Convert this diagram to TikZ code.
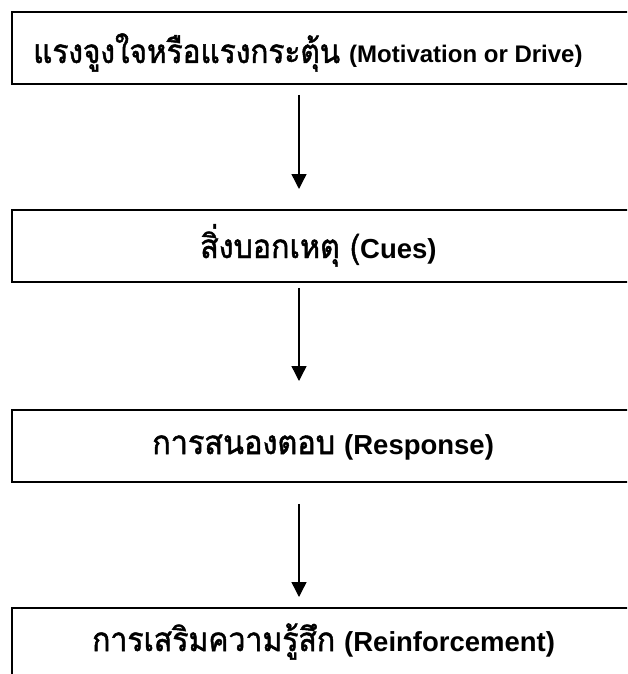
\documentclass[tikz,border=0pt]{standalone}
\usepackage{fontspec}
\usepackage{graphicx}
\newfontfamily\thai[Script=Thai,FakeBold=1.5]{Loma}
\newfontfamily\eng{Liberation Sans}
\usetikzlibrary{arrows.meta}
\tikzset{
  box/.style={draw=black, line width=1.8pt, rectangle, minimum width=624pt, minimum height=72pt, anchor=north west, inner sep=0pt},
  lbl/.style={inner sep=0pt, anchor=base west},
  arr/.style={line width=1.4pt, -{Triangle[length=15pt,width=15pt]}},
}
\newcommand{\thtxt}[2]{\resizebox{#1pt}{\height}{\thai\fontsize{33}{36}\selectfont #2}}
\newcommand{\entxt}[2]{{\eng\bfseries\fontsize{#1}{#1}\selectfont #2}}
\begin{document}
\begin{tikzpicture}[x=1pt,y=-1pt]
\clip (0,0) rectangle (627,674);
\fill[white] (0,0) rectangle (627,674);
\node[box] (b1) at (11,11) {};
\node[box] (b2) at (11,209) {};
\node[box] (b3) at (11,409) {};
\node[box, minimum height=90pt] (b4) at (11,607) {};
\node[lbl] (t1) at (33,63) {\thtxt{307}{แรงจูงใจหรือแรงกระตุ้น}\hspace{9pt}\entxt{24}{(Motivation or Drive)}};
\node[lbl] (t2) at (200,258) {\thtxt{160}{สิ่งบอกเหตุ (}\entxt{27.5}{Cues)}};
\node[lbl] (t3) at (152,454) {\thtxt{183}{การสนองตอบ}\hspace{9pt}\entxt{27.5}{(Response)}};
\node[lbl] (t4) at (92,651) {\thtxt{243}{การเสริมความรู้สึก}\hspace{9pt}\entxt{27.5}{(Reinforcement)}};
\coordinate (ax) at (299,0);
\draw[arr] ([yshift=-10pt]b1.south -| ax) -- ([yshift=20pt]b2.north -| ax);
\draw[arr] ([yshift=-5pt]b2.south -| ax) -- ([yshift=28pt]b3.north -| ax);
\draw[arr] ([yshift=-21pt]b3.south -| ax) -- ([yshift=10pt]b4.north -| ax);
\end{tikzpicture}
\end{document}
